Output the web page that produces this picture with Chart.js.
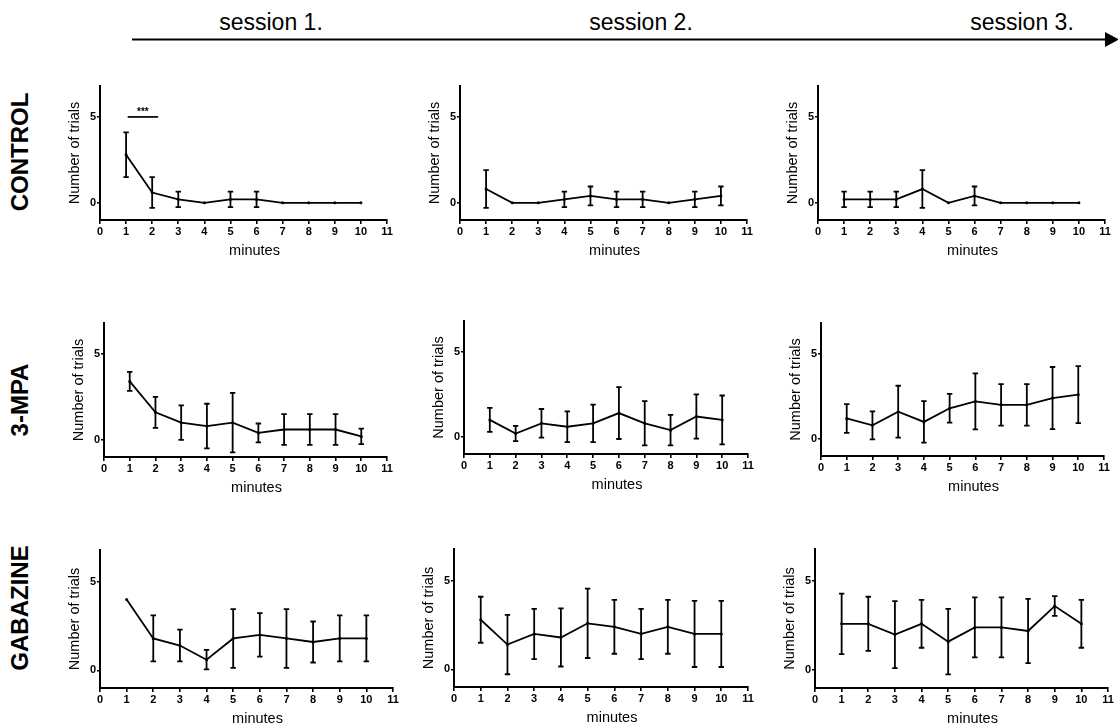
<!DOCTYPE html>
<html>
<head>
<meta charset="utf-8">
<script src="https://cdn.jsdelivr.net/npm/chart.js@4.4.0/dist/chart.umd.min.js"></script>
<style>
  body { margin:0; background:#fff; width:1118px; height:724px; position:relative; overflow:hidden;
         font-family:"Liberation Sans", Arial, sans-serif; color:#000; }
  canvas { position:absolute; }
  .session { position:absolute; top:11px; font-size:23px; line-height:1; transform:translateX(-50%); white-space:nowrap; }
  .row { position:absolute; font-weight:bold; font-size:24px; line-height:1; white-space:nowrap;
         transform:translate(-50%,-50%) rotate(-90deg); }
  svg { position:absolute; left:0; top:0; }
</style>
</head>
<body>
<svg width="1118" height="60">
  <line x1="132" y1="39.5" x2="1108" y2="39.5" stroke="#000" stroke-width="2"/>
  <polygon points="1105,32 1119,39.5 1105,47" fill="#000"/>
</svg>
<div class="session" style="left:271px">session 1.</div>
<div class="session" style="left:641px">session 2.</div>
<div class="session" style="left:1022px">session 3.</div>
<div class="row" style="left:20px;top:152px">CONTROL</div>
<div class="row" style="left:20px;top:400px">3-MPA</div>
<div class="row" style="left:20px;top:608px">GABAZINE</div>

<script>
// --- Données (moyenne ± écart) ---
const minutes = [1, 2, 3, 4, 5, 6, 7, 8, 9, 10];
const yTicks = [0, 5];

const controlS1 = [2.8, 0.6, 0.2, 0, 0.2, 0.2, 0, 0, 0, 0];
const controlS1Err = [1.3, 0.9, 0.45, 0, 0.45, 0.45, 0, 0, 0, 0];
const controlS2 = [0.8, 0, 0, 0.2, 0.4, 0.2, 0.2, 0, 0.2, 0.4];
const controlS2Err = [1.1, 0, 0, 0.45, 0.55, 0.45, 0.45, 0, 0.45, 0.55];
const controlS3 = [0.2, 0.2, 0.2, 0.8, 0, 0.4, 0, 0, 0, 0];
const controlS3Err = [0.45, 0.45, 0.45, 1.1, 0, 0.55, 0, 0, 0, 0];

const mpaS1 = [3.4, 1.6, 1.0, 0.8, 1.0, 0.4, 0.6, 0.6, 0.6, 0.2];
const mpaS1Err = [0.55, 0.9, 1.0, 1.3, 1.73, 0.55, 0.9, 0.9, 0.9, 0.45];
const mpaS2 = [1.0, 0.2, 0.8, 0.6, 0.8, 1.4, 0.8, 0.4, 1.2, 1.0];
const mpaS2Err = [0.7, 0.45, 0.84, 0.9, 1.1, 1.52, 1.3, 0.9, 1.3, 1.43];
const mpaS3 = [1.2, 0.8, 1.6, 1.0, 1.8, 2.2, 2.0, 2.0, 2.4, 2.6];
const mpaS3Err = [0.84, 0.82, 1.52, 1.22, 0.84, 1.64, 1.22, 1.22, 1.82, 1.67];

const gabS1 = [4.0, 1.8, 1.4, 0.6, 1.8, 2.0, 1.8, 1.6, 1.8, 1.8];
const gabS1Err = [0, 1.3, 0.9, 0.55, 1.66, 1.23, 1.66, 1.16, 1.3, 1.3];
const gabS2 = [2.8, 1.4, 2.0, 1.8, 2.6, 2.4, 2.0, 2.4, 2.0, 2.0];
const gabS2Err = [1.3, 1.68, 1.42, 1.64, 1.96, 1.52, 1.42, 1.52, 1.87, 1.87];
const gabS3 = [2.6, 2.6, 2.0, 2.6, 1.6, 2.4, 2.4, 2.2, 3.6, 2.6];
const gabS3Err = [1.7, 1.52, 1.88, 1.34, 1.84, 1.68, 1.68, 1.8, 0.55, 1.34];

// barre de significativité (control, session 1)
const sigControlS1 = { from: 1.06, to: 2.23, y: 5, label: '***' };

// --- Mise en page ---
const FONT = '"Liberation Sans", Arial, sans-serif';
const Y_W = 60, PAD_T = 10, PAD_R = 14, X_H = 45;

// plot area boxes [left, right, top, bottom] in page pixels
const panels = [
  { box: [100, 387, 86, 220], means: controlS1, errs: controlS1Err, sig: sigControlS1 },
  { box: [460, 747, 86, 220], means: controlS2, errs: controlS2Err },
  { box: [818, 1105, 86, 220], means: controlS3, errs: controlS3Err },
  { box: [104, 387, 323, 457], means: mpaS1, errs: mpaS1Err },
  { box: [464, 748, 321, 454], means: mpaS2, errs: mpaS2Err },
  { box: [821, 1104, 323, 456], means: mpaS3, errs: mpaS3Err },
  { box: [100, 393, 550, 688], means: gabS1, errs: gabS1Err },
  { box: [454, 748, 549, 687], means: gabS2, errs: gabS2Err },
  { box: [815, 1108, 549, 688], means: gabS3, errs: gabS3Err }
];

// --- Plugins ---
const errorBarPlugin = {
  id: 'errorBars',
  afterDatasetsDraw(chart) {
    const { ctx, scales: { x, y } } = chart;
    chart.data.datasets.forEach(ds => {
      if (!ds.errors) return;
      ctx.save();
      ctx.strokeStyle = '#000';
      ctx.lineWidth = 1.8;
      ds.data.forEach((p, i) => {
        const e = ds.errors[i];
        if (!e) return;
        const px = x.getPixelForValue(p.x);
        const top = y.getPixelForValue(p.y + e);
        const bot = y.getPixelForValue(p.y - e);
        ctx.beginPath();
        ctx.moveTo(px, top); ctx.lineTo(px, bot);
        ctx.moveTo(px - 2.7, top); ctx.lineTo(px + 2.7, top);
        ctx.moveTo(px - 2.7, bot); ctx.lineTo(px + 2.7, bot);
        ctx.stroke();
      });
      ctx.restore();
    });
  }
};

const labelsPlugin = {
  id: 'axisLabels',
  afterDraw(chart) {
    const { ctx, chartArea: a, scales: { x, y } } = chart;
    ctx.save();
    ctx.fillStyle = '#000';
    ctx.font = '14.5px ' + FONT;
    ctx.textAlign = 'center';
    ctx.textBaseline = 'middle';
    ctx.fillText('minutes', (a.left + a.right) / 2 + 11, a.bottom + 31);
    ctx.save();
    ctx.translate(a.left - 25, (a.top + a.bottom) / 2);
    ctx.rotate(-Math.PI / 2);
    ctx.fillText('Number of trials', 0, 0);
    ctx.restore();
    const sig = chart.options.plugins.sigBar;
    if (sig && sig.label) {
      const x1 = x.getPixelForValue(sig.from), x2 = x.getPixelForValue(sig.to);
      const py = y.getPixelForValue(sig.y);
      ctx.strokeStyle = '#000';
      ctx.lineWidth = 1.7;
      ctx.beginPath();
      ctx.moveTo(x1, py); ctx.lineTo(x2, py);
      ctx.stroke();
      ctx.font = 'bold 10px ' + FONT;
      ctx.fillText(sig.label, (x1 + x2) / 2, py - 5);
    }
    ctx.restore();
  }
};

// --- Graphiques ---
function makePanel(p) {
  const [L, R, T, B] = p.box;
  const c = document.createElement('canvas');
  c.width = R - L + Y_W + PAD_R;
  c.height = B - T + PAD_T + X_H;
  c.style.left = (L - Y_W) + 'px';
  c.style.top = (T - PAD_T) + 'px';
  document.body.appendChild(c);

  new Chart(c.getContext('2d'), {
    type: 'line',
    data: {
      datasets: [{
        data: minutes.map((m, i) => ({ x: m, y: p.means[i] })),
        errors: p.errs,
        borderColor: '#000',
        borderWidth: 1.8,
        pointRadius: 1.5,
        pointBackgroundColor: '#000',
        pointBorderWidth: 0,
        tension: 0,
        clip: false
      }]
    },
    options: {
      responsive: false,
      animation: false,
      events: [],
      layout: { padding: { top: PAD_T, right: PAD_R, left: 0, bottom: 0 } },
      plugins: { legend: { display: false }, tooltip: { enabled: false }, sigBar: p.sig || {} },
      scales: {
        x: {
          type: 'linear', min: 0, max: 11,
          afterFit: s => { s.height = X_H; },
          ticks: { stepSize: 1, padding: 1, color: '#000', font: { family: FONT, size: 11, weight: 'bold' } },
          grid: { drawOnChartArea: false, tickLength: 4, color: '#000', lineWidth: 1.6 },
          border: { color: '#000', width: 2 }
        },
        y: {
          min: -1, max: 6.8,
          afterFit: s => { s.width = Y_W; },
          afterBuildTicks: s => { s.ticks = yTicks.map(v => ({ value: v })); },
          ticks: { padding: 1, color: '#000', font: { family: FONT, size: 11, weight: 'bold' } },
          grid: { drawOnChartArea: false, tickLength: 3, color: '#000', lineWidth: 1.6 },
          border: { color: '#000', width: 2 }
        }
      }
    },
    plugins: [errorBarPlugin, labelsPlugin]
  });
}

panels.forEach(makePanel);
</script>
</body>
</html>
